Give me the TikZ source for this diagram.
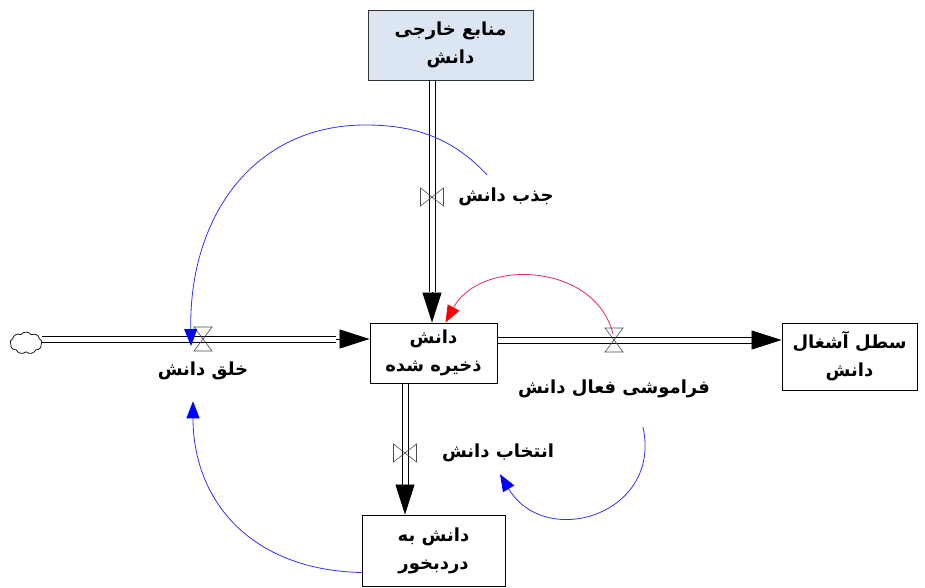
\documentclass[tikz,border=0pt]{standalone}
\usepackage{fontspec}
\newfontfamily\farsifont[Script=Arabic]{DejaVu Sans}
\TeXXeTstate=1
\usetikzlibrary{arrows.meta,calc,shapes.symbols}
\newcommand{\fatxt}[1]{{\farsifont\bfseries\beginR #1\endR}}
\definecolor{srcblue}{RGB}{220,230,242}
\definecolor{linkblue}{RGB}{50,50,230}
\definecolor{linkred}{RGB}{230,40,90}
\tikzset{
  txt/.style={font=\fontsize{18}{28}\selectfont, inner sep=1pt, align=center},
  stockbox/.style={draw=black, line width=0.9pt, fill=white, txt},
  pipeline/.style={line width=0.8pt, draw=black},
  pipetip/.style={line width=0.8pt, -{Triangle[length=30pt,width=19pt]}},
  valveline/.style={draw=black!70, line width=0.6pt},
  hvalve/.pic={\draw[valveline] (-9,-12) -- (9,-12) -- (-9,12) -- (9,12) -- cycle;},
  vvalve/.pic={\draw[valveline] (-11.5,-9) -- (-11.5,9) -- (11.5,-9) -- (11.5,9) -- cycle;},
  bluelink/.style={draw=linkblue, line width=0.8pt, -{Triangle[length=17pt,width=13pt,color=blue]}},
  redlink/.style={draw=linkred, line width=0.8pt, -{Triangle[length=17pt,width=13pt,color=red]}}
}
\begin{document}
\begin{tikzpicture}[x=1pt,y=-1pt]
\useasboundingbox (0,0) rectangle (925,587);
% stocks
\node[stockbox, fill=srcblue, draw=black!80, minimum width=165pt, minimum height=70pt] (src) at (450.5,45) {\fatxt{منابع خارجی}\\\fatxt{دانش}};
\node[stockbox, minimum width=127pt, minimum height=60pt] (stock) at (433.5,353) {\fatxt{دانش}\\\fatxt{ذخیره شده}};
\node[stockbox, minimum width=135pt, minimum height=67pt] (waste) at (849.5,356.5) {\fatxt{سطل آشغال}\\\fatxt{دانش}};
\node[stockbox, minimum width=143pt, minimum height=71pt] (useful) at (433.5,550.5) {\fatxt{دانش به}\\\fatxt{دردبخور}};
\node[cloud, draw=black, line width=0.7pt, cloud puffs=9, cloud puff arc=110, aspect=1.4, minimum width=32pt, minimum height=22pt, inner sep=0pt] (cloud) at (26,343) {};
% flow labels
\node[txt] (khalq) at (203,371) {\fatxt{خلق دانش}};
\node[txt] (jazb) at (506,197) {\fatxt{جذب دانش}};
\node[txt] (faram) at (614,389) {\fatxt{فراموشی فعال دانش}};
\node[txt] (entekh) at (498,453) {\fatxt{انتخاب دانش}};
% pipe reference points
\coordinate (pL) at ($(stock.west)+(0,-14)$);
\coordinate (pR) at ($(stock.east)+(0,-13)$);
\coordinate (pT) at ($(stock.north)+(-1.5,0)$);
\coordinate (pB) at ($(stock.south)+(-28.5,0)$);
\coordinate (wIn) at (waste.west |- pR);
\coordinate (uIn) at (pB |- useful.north);
\coordinate (sOut) at (pT |- src.south);
\coordinate (cOut) at (cloud.east |- pL);
\coordinate (aT) at ($(pT)+(0,-31)$);
\coordinate (aL) at ($(pL)+(-34,0)$);
\coordinate (aR) at ($(wIn)+(-30,0)$);
\coordinate (aB) at ($(uIn)+(0,-30)$);
% pipes (double lines)
\draw[pipeline] ($(sOut)+(-3,0)$) -- ($(aT)+(-3,0)$) ($(sOut)+(3,0)$) -- ($(aT)+(3,0)$);
\draw[pipetip] (aT) -- (pT);
\draw[pipeline] ($(cOut)+(0,-3)$) -- ($(aL)+(0,-3)$) ($(cOut)+(0,3)$) -- ($(aL)+(0,3)$);
\draw[pipetip] (aL) -- (pL);
\draw[pipeline] ($(pR)+(0,-3)$) -- ($(aR)+(0,-3)$) ($(pR)+(0,3)$) -- ($(aR)+(0,3)$);
\draw[pipetip] (aR) -- (wIn);
\draw[pipeline] ($(pB)+(-3,0)$) -- ($(aB)+(-3,0)$) ($(pB)+(3,0)$) -- ($(aB)+(3,0)$);
\draw[pipetip] (aB) -- (uIn);
% valves
\coordinate (vT) at (pT |- jazb);
\coordinate (vL) at (khalq |- pL);
\coordinate (vR) at (faram |- pR);
\coordinate (vB) at (pB |- entekh);
\pic at (vT) {vvalve};
\pic at (vL) {hvalve};
\pic at (vR) {hvalve};
\pic at (vB) {vvalve};
% information links
\coordinate (l1s) at ($(jazb.north)+(-19,-12)$);
\coordinate (l1e) at ($(vL)+(-12,7)$);
\draw[bluelink] (l1s) .. controls (450,135) and (410,125) .. (365,125) .. controls (255,125) and (189,215) .. (l1e);
\coordinate (l2s) at ($(vR)+(-1,-6)$);
\coordinate (l2e) at ($(stock.north)+(12,0)$);
\draw[redlink] (l2s) .. controls (595,262) and (480,258) .. (l2e);
\coordinate (l3s) at ($(useful.west)+(0,22)$);
\coordinate (l3e) at ($(khalq.south)+(-10,20)$);
\draw[bluelink] (l3s) .. controls (250,570) and (193,500) .. (l3e);
\coordinate (l4s) at ($(faram.south)+(29,28)$);
\coordinate (l4e) at ($(entekh.south)+(2,11)$);
\draw[bluelink] (l4s) .. controls (662,515) and (545,550) .. (l4e);
\end{tikzpicture}
\end{document}
